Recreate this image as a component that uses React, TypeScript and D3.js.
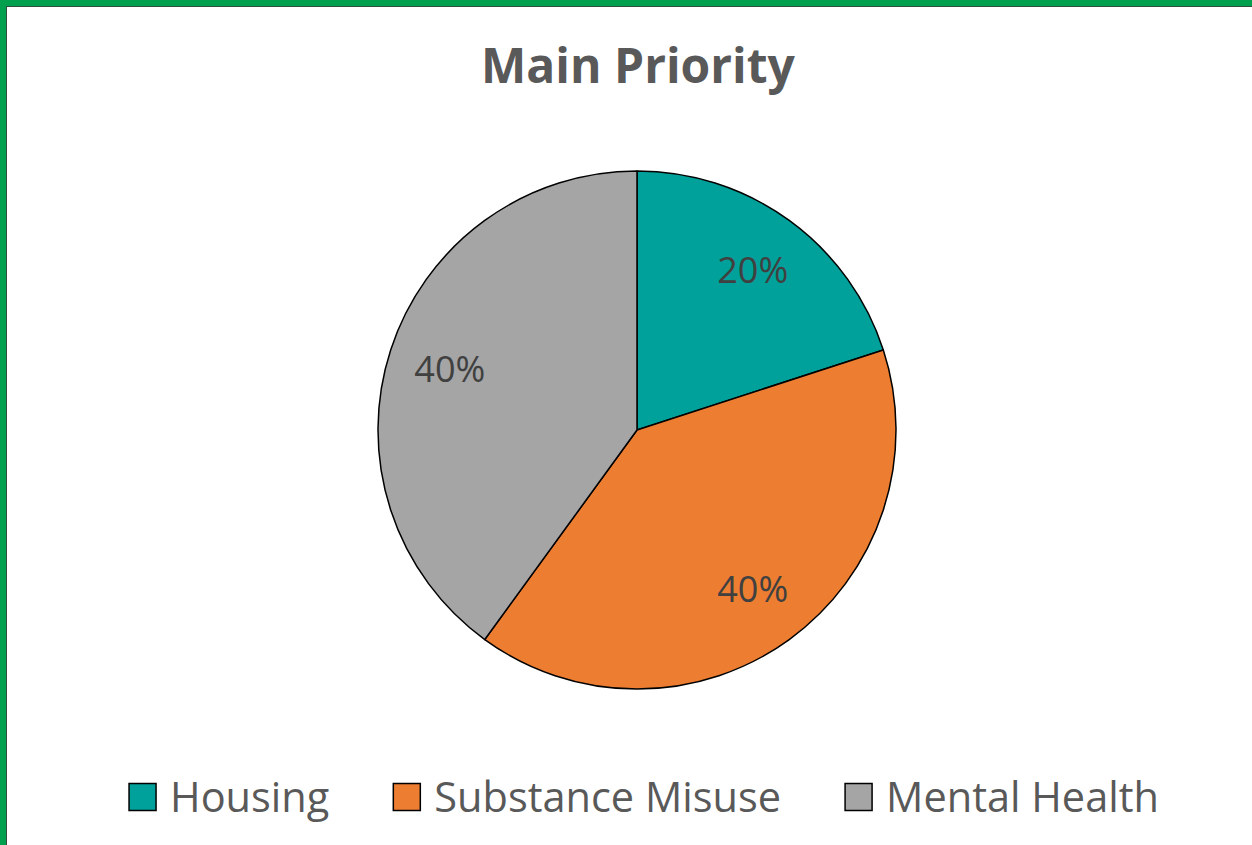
import React, { useEffect, useRef } from "react";
import * as d3 from "d3";

const categories = ["Housing", "Substance Misuse", "Mental Health"];
const shares = [20, 40, 40];
const colors = ["#00A19A", "#ED7D31", "#A5A5A5"];
const title = "Main Priority";

const width = 1252;
const height = 845;

export default function App() {
  const ref = useRef<SVGSVGElement>(null);

  useEffect(() => {
    const svg = d3.select(ref.current);
    svg.selectAll("*").remove();
    const font = "'Open Sans', sans-serif";

    // frame (only top and left edges are visible in the crop)
    svg.append("rect").attr("x", 0).attr("y", 0).attr("width", width).attr("height", height).attr("fill", "#fff");
    svg.append("rect").attr("x", 3).attr("y", 3).attr("width", width + 20).attr("height", height + 20)
      .attr("fill", "none").attr("stroke", "#00A04F").attr("stroke-width", 6);
    svg.append("rect").attr("x", 6.5).attr("y", 6.5).attr("width", width + 20).attr("height", height + 20)
      .attr("fill", "none").attr("stroke", "#2f4f3a").attr("stroke-width", 1);

    svg.append("text")
      .attr("x", 638).attr("y", 83)
      .attr("text-anchor", "middle")
      .attr("font-family", font).attr("font-weight", 700).attr("font-size", 48)
      .attr("fill", "#595959")
      .text(title);

    const cx = 637, cy = 430, r = 259;
    const pie = d3.pie<number>().sort(null).value((d) => d);
    const arcs = pie(shares);
    const arc = d3.arc<d3.PieArcDatum<number>>().innerRadius(0).outerRadius(r);
    const labelArc = d3.arc<d3.PieArcDatum<number>>().innerRadius(r * 0.76).outerRadius(r * 0.76);

    const g = svg.append("g").attr("transform", `translate(${cx},${cy})`);
    g.selectAll("path").data(arcs).enter().append("path")
      .attr("d", arc)
      .attr("fill", (d, i) => colors[i])
      .attr("stroke", "#000").attr("stroke-width", 1.5).attr("stroke-linejoin", "round");

    g.selectAll("text.lbl").data(arcs).enter().append("text")
      .attr("class", "lbl")
      .attr("transform", (d) => `translate(${labelArc.centroid(d)})`)
      .attr("text-anchor", "middle").attr("dy", "0.35em")
      .attr("font-family", font).attr("font-size", 36).attr("fill", "#404040")
      .text((d) => `${d.data}%`);

    // legend, centred under the pie
    const box = 27, gap = 14, spacing = 64;
    const lg = svg.append("g");
    const items = lg.selectAll("g").data(categories).enter().append("g");
    items.append("rect").attr("width", box).attr("height", box).attr("y", -box / 2)
      .attr("fill", (d, i) => colors[i]).attr("stroke", "#000").attr("stroke-width", 1.5);
    const txt = items.append("text").attr("x", box + gap).attr("dy", "0.35em")
      .attr("font-family", font).attr("font-size", 41.5).attr("fill", "#595959")
      .text((d) => d);
    const widths: number[] = [];
    txt.each(function () { widths.push((this as SVGTextElement).getComputedTextLength()); });
    const itemW = widths.map((w) => box + gap + w);
    const total = d3.sum(itemW) + spacing * (itemW.length - 1);
    let x = 644 - total / 2;
    items.attr("transform", (d, i) => {
      const t = `translate(${x},797)`;
      x += itemW[i] + spacing;
      return t;
    });
  }, []);

  return (
    <svg ref={ref} width={width} height={height}
      style={{ position: "absolute", left: 0, top: 0, display: "block" }} />
  );
}
